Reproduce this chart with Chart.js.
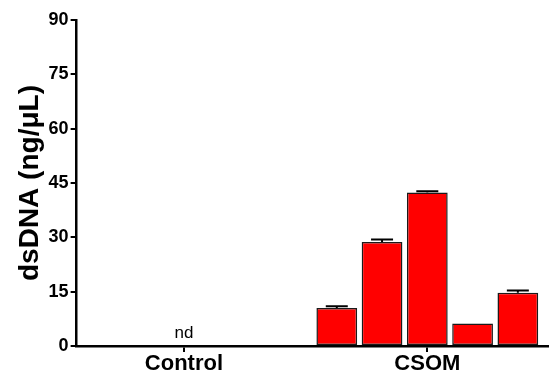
<!DOCTYPE html>
<html>
<head>
<meta charset="utf-8">
<script src="https://cdn.jsdelivr.net/npm/chart.js@4"></script>
<style>
html,body{margin:0;padding:0;background:#fff;}
#wrap{width:549px;height:374px;}
</style>
</head>
<body>
<div id="wrap"><canvas id="c" width="549" height="374"></canvas></div>
<script>
// ---- data ----
const categories = ['Control', 'CSOM'];
const categoryPos = [0, 1];
const csomOffsets = [-0.372, -0.186, 0, 0.186, 0.372];
const csomValues = [10.5, 28.7, 42.4, 6.2, 14.7];
const csomErrors = [0.5, 0.7, 0.3, 0.0, 0.6];
const controlLabel = 'nd';
const yTicks = [0, 15, 30, 45, 60, 75, 90];

const barData = csomOffsets.map((o, i) => ({ x: categoryPos[1] + o, y: csomValues[i] }));

const FONT = '"Liberation Sans", Arial, Helvetica, sans-serif';

const extras = {
  id: 'extras',
  afterDatasetsDraw(chart) {
    const ctx = chart.ctx;
    const xs = chart.scales.x, ys = chart.scales.y;
    ctx.save();
    ctx.strokeStyle = '#000';
    ctx.lineWidth = 2;
    barData.forEach((d, i) => {
      const e = csomErrors[i];
      if (!e) return;
      const px = xs.getPixelForValue(d.x);
      const top = ys.getPixelForValue(d.y + e);
      const base = ys.getPixelForValue(d.y);
      ctx.beginPath();
      ctx.moveTo(px, base);
      ctx.lineTo(px, top);
      ctx.moveTo(px - 11, top);
      ctx.lineTo(px + 11, top);
      ctx.stroke();
    });
    ctx.fillStyle = '#000';
    ctx.font = '17px ' + FONT;
    ctx.textAlign = 'center';
    ctx.textBaseline = 'middle';
    ctx.fillText(controlLabel, xs.getPixelForValue(categoryPos[0]), ys.getPixelForValue(0) - 13);
    ctx.restore();
  }
};

new Chart(document.getElementById('c'), {
  type: 'bar',
  data: {
    datasets: [{
      data: barData,
      backgroundColor: '#ff0000',
      borderColor: '#1a1a1a',
      borderWidth: 1.5,
      borderSkipped: false,
      barPercentage: 0.9,
      categoryPercentage: 1.0
    }]
  },
  options: {
    responsive: false,
    animation: false,
    layout: { padding: { top: 20, right: 0, left: 13, bottom: -2 } },
    plugins: { legend: { display: false }, tooltip: { enabled: false } },
    scales: {
      x: {
        type: 'linear',
        offset: false,
        min: -0.441,
        max: 1.5,
        afterBuildTicks(scale) { scale.ticks = categoryPos.map(v => ({ value: v })); },
        ticks: {
          autoSkip: false,
          maxRotation: 0,
          padding: 1,
          color: '#000',
          font: { family: FONT, size: 22, weight: 'bold', lineHeight: 1.0 },
          callback: (v, i) => categories[i]
        },
        grid: { offset: false, drawOnChartArea: false, drawTicks: true, tickLength: 6, color: '#000', lineWidth: 2 },
        border: { display: true, color: '#000', width: 2.5 }
      },
      y: {
        min: 0,
        max: 90,
        afterBuildTicks(scale) { scale.ticks = yTicks.map(v => ({ value: v })); },
        ticks: {
          padding: 2,
          color: '#000',
          font: { family: FONT, size: 18, weight: 'bold' }
        },
        grid: { drawOnChartArea: false, drawTicks: true, tickLength: 6, color: '#000', lineWidth: 2 },
        border: { display: true, color: '#000', width: 2.5 },
        title: {
          display: true,
          text: 'dsDNA (ng/μL)',
          color: '#000',
          padding: { top: 0, bottom: 0 },
          font: { family: FONT, size: 28, weight: 'bold' }
        }
      }
    }
  },
  plugins: [extras]
});
</script>
</body>
</html>
